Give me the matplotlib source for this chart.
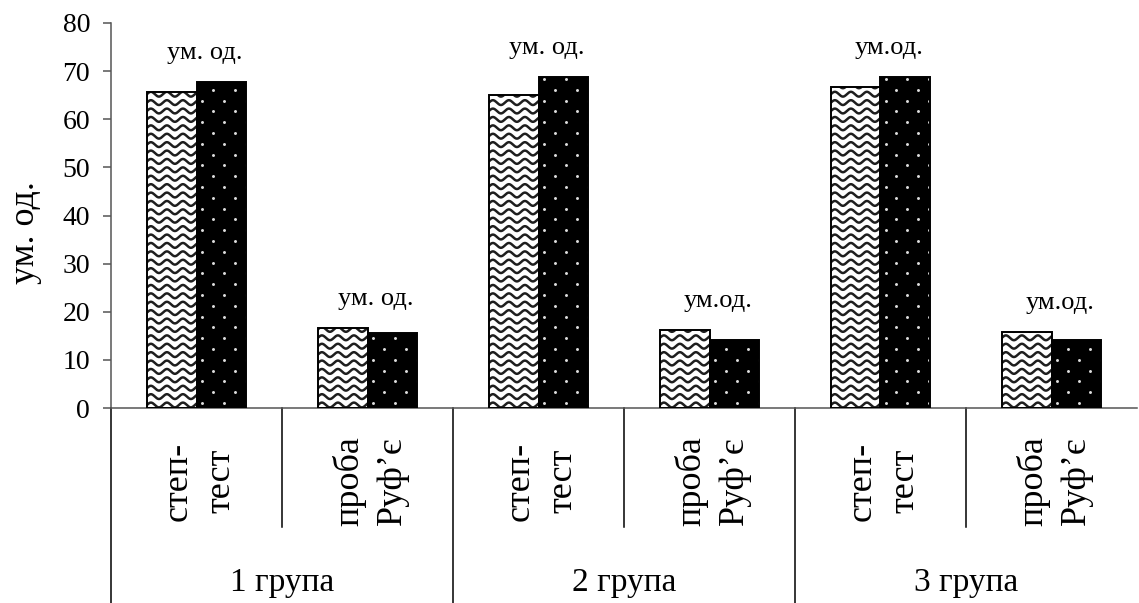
import numpy as np
import matplotlib.pyplot as plt
from matplotlib.transforms import blended_transform_factory

plt.rcParams['font.family'] = ['Liberation Serif', 'DejaVu Serif']

groups = ["1 група", "2 група", "3 група"]
tests = ["степ-\nтест", "проба\nРуф’є"]
wave_vals = [65.7, 16.6, 65.0, 16.2, 66.7, 15.8]
dot_vals = [67.7, 15.6, 68.8, 14.1, 68.8, 14.1]
unit_labels = ["ум. од.", "ум. од.", "ум. од.", "ум.од.", "ум.од.", "ум.од."]
yticks = [0, 10, 20, 30, 40, 50, 60, 70, 80]


def add_waves(ax, rect, sx, sy):
    x, y = rect.get_x(), rect.get_y()
    w, h = rect.get_width(), rect.get_height()
    period, amp, step = 16.0, 2.4, 8.4
    xs = np.linspace(x, x + w, 200)
    phase = (xs - x) * sx / period * 2 * np.pi
    n = int(h * sy / step) + 2
    for k in range(n):
        base = y + (k * step + 3) / sy
        ln, = ax.plot(xs, base + amp / sy * np.sin(phase), color="#1e1e1e",
                      lw=1.8, zorder=2.5)
        ln.set_clip_path(rect)


def add_dots(ax, rect, sx, sy):
    x, y = rect.get_x(), rect.get_y()
    w, h = rect.get_width(), rect.get_height()
    gx, gy = 11.0, 10.8
    px, py = [], []
    for r in range(int(h * sy / gy) + 1):
        for c in range(int(w * sx / gx) + 1):
            if (r + c) % 2:
                continue
            px.append(x + (c * gx + 5) / sx)
            py.append(y + (r * gy + 5) / sy)
    sc = ax.scatter(px, py, s=4.5, c="#dddddd", marker="o", linewidths=0, zorder=2.5)
    sc.set_clip_path(rect)


fig = plt.figure(figsize=(11.39, 6.03), dpi=100)
W, H = 1139, 603
ax = fig.add_axes([111 / W, (H - 408) / H, (1137 - 111) / W, 385 / H])
ax.set_xlim(-0.5, 5.5)
ax.set_ylim(0, 80)

xpos = np.arange(len(wave_vals))
bw = 0.29
wave_bars = ax.bar(xpos - bw / 2, wave_vals, bw, color="white", linewidth=0, zorder=2)
dot_bars = ax.bar(xpos + bw / 2, dot_vals, bw, color="black", linewidth=0, zorder=2)

fig.canvas.draw()
t = ax.transData
x0, y0 = t.transform((0, 0))
x1, y1 = t.transform((1, 1))
sx, sy = x1 - x0, y1 - y0

for rect in wave_bars:
    add_waves(ax, rect, sx, sy)
for rect in dot_bars:
    add_dots(ax, rect, sx, sy)

# outlines on top of the textures
ax.bar(xpos - bw / 2, wave_vals, bw, fill=False, edgecolor="black", linewidth=1.4, zorder=3)
ax.bar(xpos + bw / 2, dot_vals, bw, fill=False, edgecolor="black", linewidth=1.4, zorder=3)

for i, lab in enumerate(unit_labels):
    top = max(wave_vals[i], dot_vals[i])
    ax.annotate(lab, (xpos[i] + 0.05, top), xytext=(0, 21), textcoords="offset points",
                ha="center", va="center", fontsize=19)

ax.spines['top'].set_visible(False)
ax.spines['right'].set_visible(False)
ax.spines['left'].set_color("#555555")
ax.spines['bottom'].set_color("#555555")
ax.spines['left'].set_linewidth(1.1)
ax.spines['bottom'].set_linewidth(1.1)
ax.set_yticks(yticks)
ax.set_yticklabels([str(v) for v in yticks], fontsize=20)
ax.tick_params(axis='y', length=6, width=1.1, color="#555555", pad=9)
ax.set_xticks([])

# two-level category axis underneath
tr = blended_transform_factory(ax.transData, ax.transAxes)
for g in range(len(groups)):
    left = g * 2 - 0.5
    ax.plot([left, left], [0, -0.506], transform=tr, color="black", lw=1.1, clip_on=False)
    ax.plot([left + 1, left + 1], [0, -0.309], transform=tr, color="black", lw=1.1, clip_on=False)
    ax.text(g * 2 + 0.5, -0.455, groups[g], transform=tr, ha="center", va="center", fontsize=24)
    for j, name in enumerate(tests):
        ax.text(g * 2 + j + 0.02, -0.19, name, transform=tr, rotation=90, ha="center",
                va="center", multialignment="center", fontsize=26, linespacing=1.4)

fig.text(25 / W, 1 - 233 / H, "ум. од.", rotation=90, ha="center", va="center", fontsize=26)

fig.savefig("out.png", dpi=100)
